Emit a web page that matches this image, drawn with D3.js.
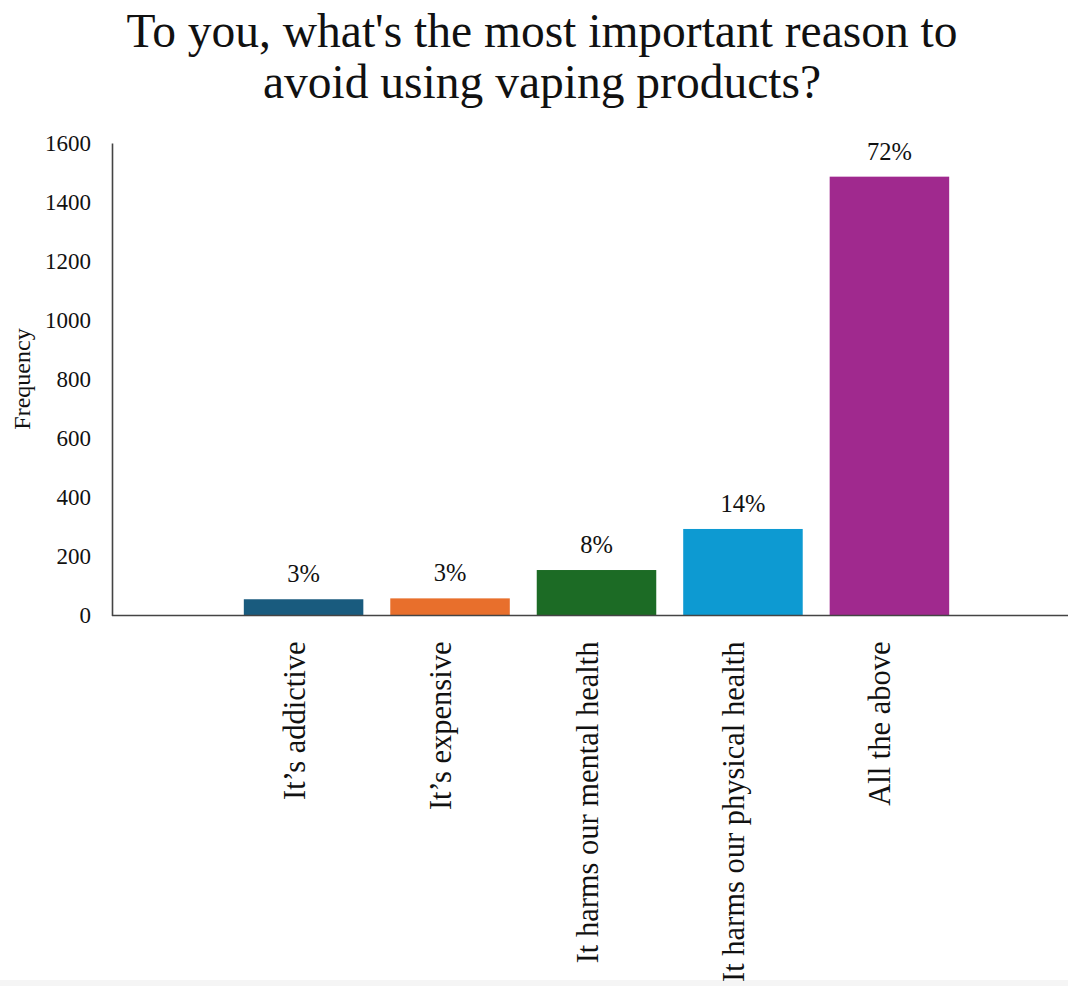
<!DOCTYPE html>
<html>
<head>
<meta charset="utf-8">
<script src="https://cdn.jsdelivr.net/npm/d3@7"></script>
<style>
  html, body { margin: 0; padding: 0; background: #fff; }
  svg { display: block; }
  text { font-family: "Liberation Serif", "Times New Roman", serif; fill: #111; }
</style>
</head>
<body>
<script>
const categories = ["It\u2019s addictive", "It\u2019s expensive", "It harms our mental health", "It harms our physical health", "All the above"];
const frequencies = [55, 58, 154, 293, 1486];
const percentLabels = ["3%", "3%", "8%", "14%", "72%"];
const barColors = ["#195b7e", "#e86f2c", "#1c6b25", "#0d9ad2", "#a0298e"];
const yTicks = [0, 200, 400, 600, 800, 1000, 1200, 1400, 1600];
const titleLines = ["To you, what's the most important reason to", "avoid using vaping products?"];
const yLabel = "Frequency";

const W = 1068, H = 986;
const svg = d3.select("body").append("svg").attr("width", W).attr("height", H);

// faint bottom strip
svg.append("rect").attr("x", 0).attr("y", 980).attr("width", W).attr("height", 6).attr("fill", "#f5f5f5");

const axisX = 112, baseY = 615.5, topY = 143;

const x = d3.scaleBand().domain(categories).range([axisX, 1081]).paddingInner(0.184).paddingOuter(0.9);
const y = d3.scaleLinear().domain([0, 1600]).range([baseY, topY]);

// title
svg.append("g").selectAll("text").data(titleLines).join("text")
  .attr("x", 542).attr("y", (d, i) => 47 + i * 51)
  .attr("text-anchor", "middle")
  .style("font-size", "47.5px")
  .attr("fill", "#000")
  .text(d => d);

// bars
svg.append("g").selectAll("rect").data(categories).join("rect")
  .attr("x", d => x(d))
  .attr("width", x.bandwidth())
  .attr("y", (d, i) => y(frequencies[i]))
  .attr("height", (d, i) => baseY - y(frequencies[i]))
  .attr("fill", (d, i) => barColors[i]);

// percent labels
svg.append("g").selectAll("text").data(categories).join("text")
  .attr("x", d => x(d) + x.bandwidth() / 2)
  .attr("y", (d, i) => y(frequencies[i]) - 17)
  .attr("text-anchor", "middle")
  .style("font-size", "24.5px")
  .text((d, i) => percentLabels[i]);

// y axis
const yAxis = d3.axisLeft(y).tickValues(yTicks).tickSize(0).tickPadding(21).tickFormat(d3.format("d"));
const gy = svg.append("g").attr("transform", `translate(${axisX},0)`).call(yAxis);
gy.select(".domain").attr("stroke", "#444").attr("stroke-width", 1.6);
gy.selectAll(".tick text").style("font-size", "23px").style("font-family", "Liberation Serif, serif").attr("fill", "#111");

// x axis
const xAxis = d3.axisBottom(x).tickSize(0).tickFormat(() => "");
const gx = svg.append("g").attr("transform", `translate(0,${baseY})`).call(xAxis);
gx.select(".domain").attr("d", `M${axisX},0H${W}`).attr("stroke", "#444").attr("stroke-width", 1.6);

// category labels (rotated)
svg.append("g").selectAll("text").data(categories).join("text")
  .attr("transform", d => `translate(${x(d) + x.bandwidth() / 2 + 1},${baseY + 26}) rotate(-90)`)
  .attr("text-anchor", "end")
  .style("font-size", "30.5px")
  .text(d => d);

// y label
svg.append("text")
  .attr("transform", `translate(30,379) rotate(-90)`)
  .attr("text-anchor", "middle")
  .style("font-size", "24px")
  .text(yLabel);
</script>
</body>
</html>
